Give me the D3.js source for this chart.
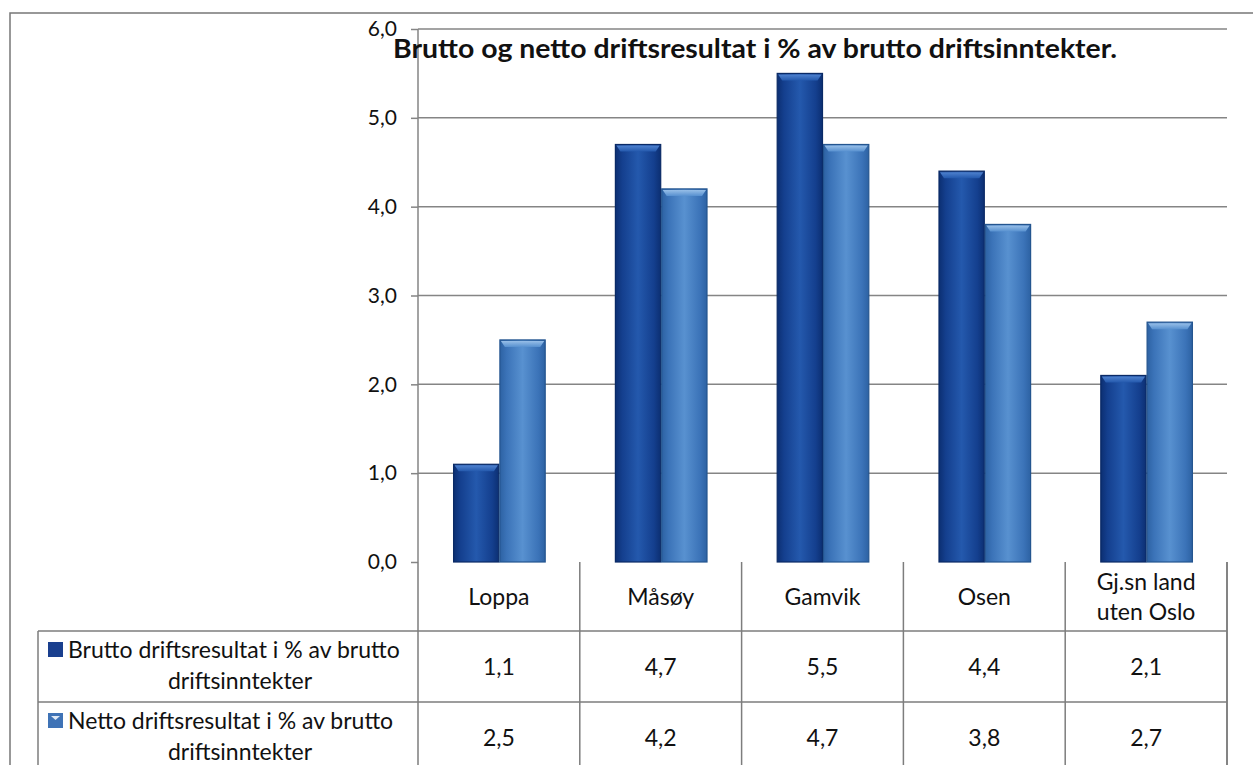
<!DOCTYPE html>
<html>
<head>
<meta charset="utf-8">
<script src="https://cdn.jsdelivr.net/npm/d3@7"></script>
<style>
body { margin: 0; background: #fff; }
svg { display: block; font-family: Lato, "Open Sans", sans-serif; }
</style>
</head>
<body>
<svg id="chart" width="1253" height="765"></svg>
<script>
// data
var categories = ["Loppa", "Måsøy", "Gamvik", "Osen", "Gj.sn land\nuten Oslo"];
var brutto = [1.1, 4.7, 5.5, 4.4, 2.1];
var netto = [2.5, 4.2, 4.7, 3.8, 2.7];
var seriesNames = ["Brutto driftsresultat i % av brutto\ndriftsinntekter", "Netto driftsresultat i % av brutto\ndriftsinntekter"];
var yTicks = [0, 1, 2, 3, 4, 5, 6];
var title = "Brutto og netto driftsresultat i % av brutto driftsinntekter.";

var svg = d3.select("#chart");
var gridColor = "#858585";
var fmt = function (v) { return d3.format(".1f")(v).replace(".", ","); };

var x = d3.scaleBand().domain(categories).range([418, 1227]);
var y = d3.scaleLinear().domain([0, 6]).range([562, 29]);

var series = [
    { name: seriesNames[0], values: brutto, edge: "#0c2f72", side: "#143f8e", mid: "#2459ad", top: "#4f82cf", stroke: "#0a2a66" },
    { name: seriesNames[1], values: netto, edge: "#2d62a3", side: "#3b73b8", mid: "#5891d0", top: "#98bfe8", stroke: "#24558f" }
];

var defs = svg.append("defs");
series.forEach(function (s, i) {
    var g = defs.append("linearGradient").attr("id", "body" + i)
        .attr("x1", 0).attr("x2", 1).attr("y1", 0).attr("y2", 0);
    g.append("stop").attr("offset", "0%").attr("stop-color", s.edge);
    g.append("stop").attr("offset", "15%").attr("stop-color", s.side);
    g.append("stop").attr("offset", "50%").attr("stop-color", s.mid);
    g.append("stop").attr("offset", "85%").attr("stop-color", s.side);
    g.append("stop").attr("offset", "100%").attr("stop-color", s.edge);
    var t = defs.append("linearGradient").attr("id", "top" + i)
        .attr("x1", 0).attr("x2", 0).attr("y1", 0).attr("y2", 1);
    t.append("stop").attr("offset", "0%").attr("stop-color", s.top);
    t.append("stop").attr("offset", "100%").attr("stop-color", s.mid);
});

// outer frame
svg.append("path")
    .attr("d", "M10,770V13H1260")
    .attr("fill", "none").attr("stroke", "#777").attr("stroke-width", 1.5);

// gridlines
svg.append("g").selectAll("line").data(yTicks.slice(1)).enter().append("line")
    .attr("x1", 418).attr("x2", 1227)
    .attr("y1", function (d) { return y(d); }).attr("y2", function (d) { return y(d); })
    .attr("stroke", gridColor).attr("stroke-width", 1.5);

// bars
var barW = x.bandwidth() * 0.28;
series.forEach(function (s, i) {
    var bars = svg.append("g").selectAll("g").data(categories).enter().append("g")
        .attr("transform", function (d) {
            return "translate(" + (x(d) + x.bandwidth() / 2 + (i - 1) * barW + i * 1) + ",0)";
        });
    bars.append("rect")
        .attr("x", 0).attr("width", barW)
        .attr("y", function (d, j) { return y(s.values[j]); })
        .attr("height", function (d, j) { return y(0) - y(s.values[j]); })
        .attr("fill", "url(#body" + i + ")")
        .attr("stroke", s.stroke).attr("stroke-width", 1.2);
    bars.append("path")
        .attr("d", function (d, j) {
            var t = y(s.values[j]);
            return "M1," + (t + 1) + "H" + (barW - 1) + "L" + (barW - 5) + "," + (t + 7) + "H5Z";
        })
        .attr("fill", "url(#top" + i + ")");
});

// y axis
var axis = svg.append("g").attr("transform", "translate(418,0)")
    .call(d3.axisLeft(y).tickValues(yTicks).tickFormat(fmt).tickSize(7).tickPadding(14));
axis.select(".domain").attr("stroke", gridColor).attr("stroke-width", 1.5).attr("d", "M0,29V562");
axis.selectAll(".tick line").attr("stroke", gridColor).attr("stroke-width", 1.5);
axis.selectAll(".tick text").attr("font-size", 21).attr("fill", "#111").attr("font-family", "Lato, sans-serif");

// title
svg.append("text")
    .attr("x", 393).attr("y", 58)
    .attr("font-size", 26).attr("font-weight", "bold").attr("fill", "#111")
    .attr("textLength", 724).attr("lengthAdjust", "spacingAndGlyphs")
    .text(title);

// data table
var rowTop = [562, 631, 702, 772];
var tbl = svg.append("g").attr("stroke", "#7d7d7d").attr("stroke-width", 1.5).attr("fill", "none");
tbl.append("path").attr("d", "M418,562V772M38,631V772M38,631H1227M38,702H1227M1227,562V772");
x.domain().forEach(function (d) {
    tbl.append("line").attr("x1", x(d) + x.bandwidth()).attr("x2", x(d) + x.bandwidth())
        .attr("y1", 562).attr("y2", 772);
});

var txt = svg.append("g").attr("fill", "#111").attr("font-size", 23).attr("text-anchor", "middle");
categories.forEach(function (c) {
    var lines = c.split("\n");
    var cx = x(c) + x.bandwidth() / 2;
    lines.forEach(function (l, k) {
        txt.append("text").attr("x", cx)
            .attr("y", 605 + (k - (lines.length - 1) / 2) * 30)
            .text(l);
    });
});

series.forEach(function (s, i) {
    var top = rowTop[i + 1];
    var lines = s.name.split("\n");
    svg.append("rect")
        .attr("x", 48).attr("y", top + 11).attr("width", 15).attr("height", 15)
        .attr("fill", i === 0 ? "#1a3f8e" : "#3f73b6");
    if (i === 1) {
        svg.append("path").attr("d", "M51," + (top + 14) + "H60L55.5," + (top + 18) + "Z").attr("fill", "#dfe9f6");
    }
    txt.append("text").attr("x", 68).attr("y", top + 27).attr("text-anchor", "start").text(lines[0]);
    txt.append("text").attr("x", 240).attr("y", top + 58).text(lines[1]);
    s.values.forEach(function (v, j) {
        txt.append("text")
            .attr("x", x(categories[j]) + x.bandwidth() / 2)
            .attr("y", top + 44)
            .text(fmt(v));
    });
});
</script>
</body>
</html>
